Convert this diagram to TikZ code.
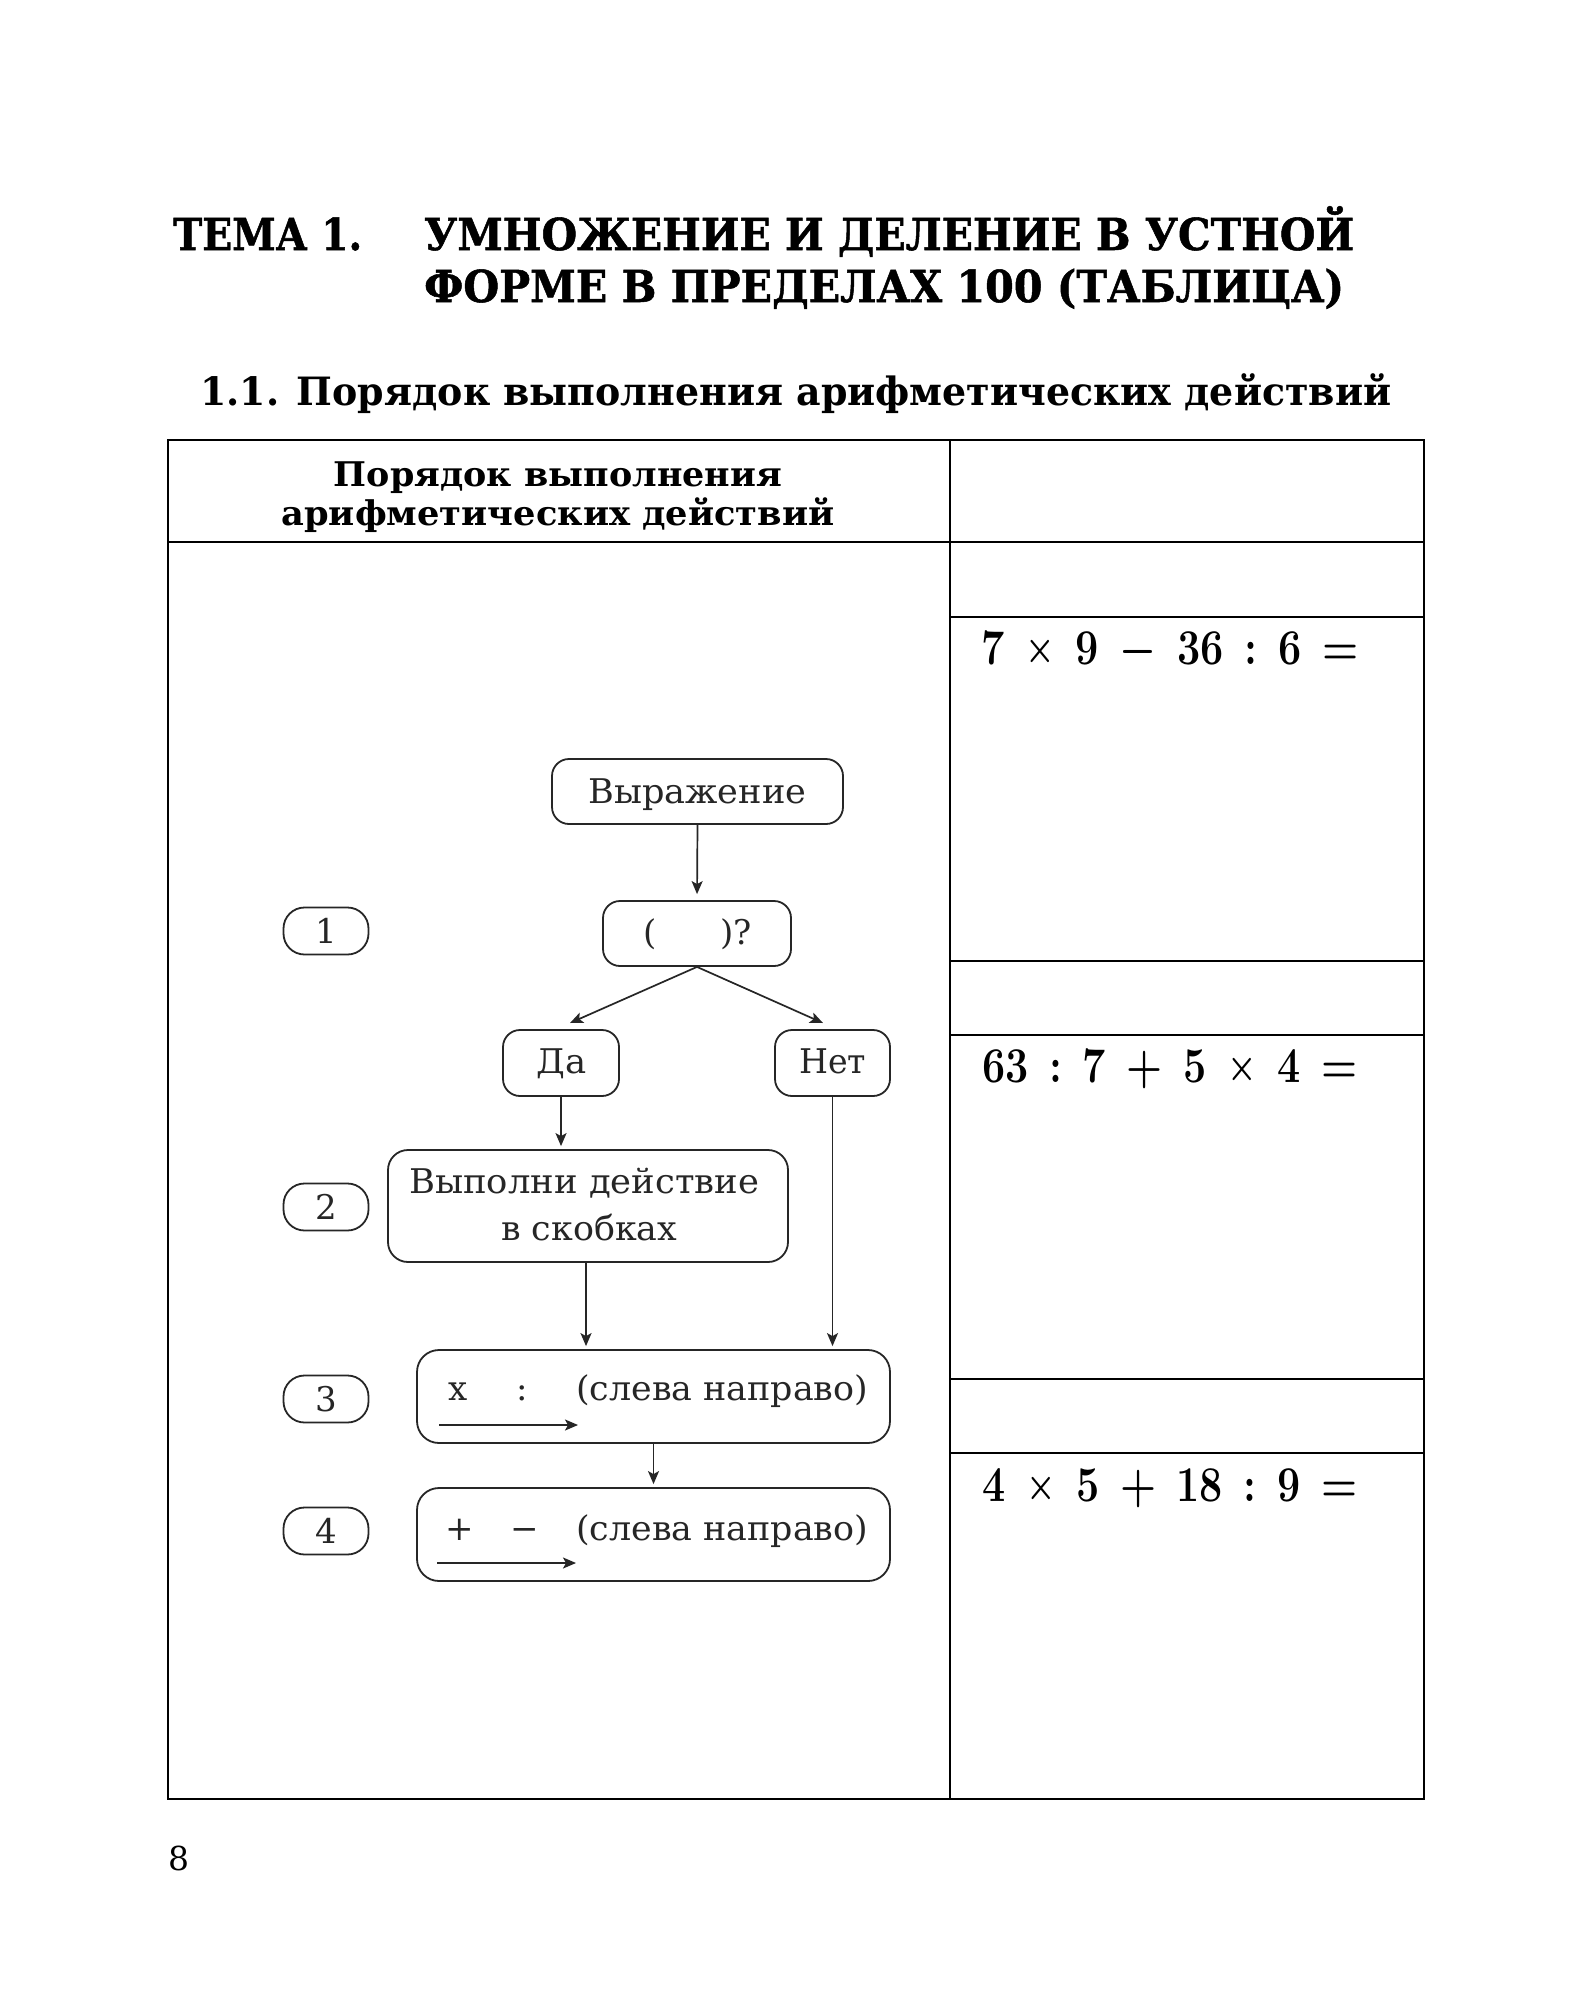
\RequirePackage{fix-cm}
\documentclass[tikz,border=0pt]{standalone}
\usepackage{fontspec}
\usepackage{graphicx}
\newfontfamily\dv{DejaVu Serif}
\newfontfamily\dvh{DejaVu Serif}[BoldFeatures={FakeBold=1.2}]
\usetikzlibrary{arrows.meta}
\newcommand{\fw}[2]{\resizebox{#1pt}{\height}{#2}}
\newcommand{\fsz}[1]{\fontsize{#1}{#1}\selectfont}
\newcommand{\mtimes}{\raisebox{2.5pt}{\scalebox{0.8}{$\times$}}}
\begin{document}
\begin{tikzpicture}[x=1pt,y=-1pt,
  tline/.style={line width=2pt, draw=black},
  fbox/.style={draw=black!85, line width=1.8pt, rounded corners=17pt, inner sep=0pt},
  pill/.style={draw=black!85, line width=1.8pt, rounded corners=21pt, minimum width=85pt, minimum height=47pt, inner sep=0pt, text=black!85, font=\dv\fsz{34}},
  arr/.style={draw=black!85, line width=1.7pt, -{Stealth[length=13pt,width=11pt,inset=3pt]}},
  txt/.style={inner sep=0pt, anchor=base west},
  ctxt/.style={inner sep=0pt, anchor=base},
  ftxt/.style={inner sep=0pt, anchor=base west, text=black!85, font=\dv\fsz{34}},
  ttl/.style={inner sep=0pt, anchor=base west, font=\dvh\bfseries\fsz{44}},
  hdr/.style={inner sep=0pt, anchor=base, font=\dv\bfseries\fsz{34}},
  expr/.style={inner sep=0pt, anchor=base west, font=\bfseries\boldmath\fsz{50}},
]
\useasboundingbox (0,0) rectangle (1582,2000);
\fill[white] (0,0) rectangle (1582,2000);

% titles
\node[ttl] (t1) at (173,250) {\fw{189}{ТЕМА 1.}};
\node[ttl] (t2) at (424,250) {\fw{930}{УМНОЖЕНИЕ И ДЕЛЕНИЕ В УСТНОЙ}};
\node[ttl] (t3) at (424,302) {\fw{920}{ФОРМЕ В ПРЕДЕЛАХ 100 (ТАБЛИЦА)}};
\node[ttl, font=\dv\bfseries\fsz{39}] (t4) at (200,405) {\fw{1191}{1.1. Порядок выполнения арифметических действий}};

% table
\draw[tline] (168,440) rectangle (1424,1799);
\draw[tline] (950,440) -- (950,1799);
\draw[tline] (168,542) -- (1424,542);
\foreach \yy in {617,961,1035,1379,1453} \draw[tline] (950,\yy) -- (1424,\yy);

\node[hdr] (h1) at (558,486) {\fw{448}{Порядок выполнения}};
\node[hdr] (h2) at (558,525) {\fw{553}{арифметических действий}};

\node[expr] (e1) at (981,664) {\fw{377}{7\hspace{.5em}\mtimes\hspace{.5em}9\hspace{.5em}$-$\hspace{.5em}36\hspace{.5em}:\hspace{.5em}6\hspace{.5em}=}};
\node[expr] (e2) at (982,1082) {\fw{375}{63\hspace{.5em}:\hspace{.5em}7\hspace{.5em}+\hspace{.5em}5\hspace{.5em}\mtimes\hspace{.5em}4\hspace{.5em}=}};
\node[expr] (e3) at (982,1501) {\fw{375}{4\hspace{.5em}\mtimes\hspace{.5em}5\hspace{.5em}+\hspace{.5em}18\hspace{.5em}:\hspace{.5em}9\hspace{.5em}=}};

% flowchart boxes
\node[fbox, minimum width=291pt, minimum height=65pt] (vyr) at (697.5,791.5) {};
\node[fbox, minimum width=188pt, minimum height=65pt] (q) at (697,933.5) {};
\node[fbox, minimum width=116pt, minimum height=66pt] (da) at (561,1063) {};
\node[fbox, minimum width=115pt, minimum height=66pt] (net) at (832.5,1063) {};
\node[fbox, minimum width=400pt, minimum height=112pt, rounded corners=20pt] (vyp) at (588,1206) {};
\node[fbox, minimum width=473pt, minimum height=93pt, rounded corners=22pt] (b3) at (653.5,1396.5) {};
\node[fbox, minimum width=473pt, minimum height=93pt, rounded corners=22pt] (b4) at (653.5,1534.5) {};

\node[pill] (p1) at (326,931) {1};
\node[pill] (p2) at (326,1207) {2};
\node[pill] (p3) at (326,1399) {3};
\node[pill] (p4) at (326,1531) {4};

% flowchart texts
\node[ftxt] (vyrt) at (588,803) {\fw{218}{Выражение}};
\node[ftxt] (qa) at (643,944) {(};
\node[ftxt] (qb) at (720,944) {)?};
\node[ftxt] (dat) at (536,1073) {\fw{50}{Да}};
\node[ftxt] (nett) at (799,1073) {\fw{67}{Нет}};
\node[ftxt] (vypa) at (409,1193) {\fw{350}{Выполни действие}};
\node[ftxt] (vypb) at (501,1240) {\fw{176}{в скобках}};
\node[ftxt] (b3x) at (448,1400) {x};
\node[ftxt, anchor=base] (b3c) at (522,1400) {:};
\node[ftxt] (b3t) at (576,1400) {\fw{292}{(слева направо)}};
\node[ftxt, anchor=base] (b4p) at (460,1540) {+};
\node[ftxt, anchor=base] (b4m) at (525,1540) {−};
\node[ftxt] (b4t) at (576,1540) {\fw{292}{(слева направо)}};

% connectors
\coordinate (daIn) at (570,1023);
\coordinate (netIn) at (823,1023);
\coordinate (a3s) at (439,1425);
\coordinate (a3e) at (578,1425);
\coordinate (a4s) at (437,1563);
\coordinate (a4e) at (576,1563);

\draw[arr, shorten >=6pt] (vyr.south) -- (q.north);
\draw[arr] (q.south) -- (daIn);
\draw[arr] (q.south) -- (netIn);
\draw[arr, shorten >=3pt] (da.south) -- (da.south |- vyp.north);
\draw[arr, shorten >=3pt] (net.south) -- (net.south |- b3.north);
\draw[arr, shorten >=3pt] ([xshift=-2pt]vyp.south) -- ([xshift=-2pt]vyp.south |- b3.north);
\draw[arr, shorten >=3pt] (b3.south) -- (b4.north);
\draw[arr] (a3s) -- (a3e);
\draw[arr] (a4s) -- (a4e);

% page number
\node[txt, font=\dv\fsz{33}] (pg) at (168,1870) {8};
\end{tikzpicture}
\end{document}
